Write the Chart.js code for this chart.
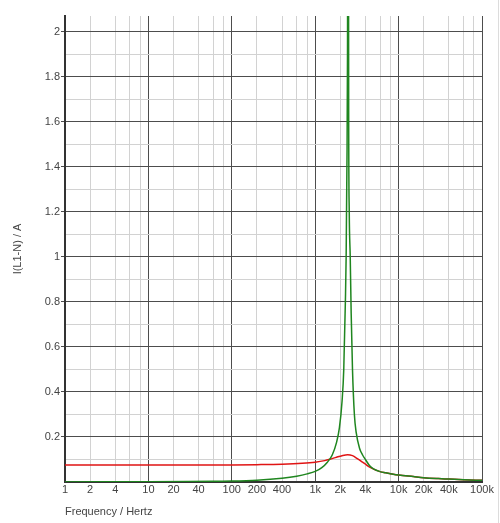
<!DOCTYPE html>
<html>
<head>
<meta charset="utf-8">
<script src="https://cdn.jsdelivr.net/npm/chart.js@4.4.1/dist/chart.umd.min.js"></script>
<style>
  html, body { margin: 0; padding: 0; background: #fff; }
  #wrap { width: 500px; height: 523px; position: relative; }
  #edge { position: absolute; left: 498px; top: 0; width: 1px; height: 523px; background: #dcdcdc; }
</style>
</head>
<body>
<div id="wrap"><canvas id="c" width="500" height="523"></canvas><div id="edge"></div></div>
<script>
// Frequencies (Hz) and currents (A)
const greenFreq = [1, 3, 10, 30, 60, 100, 200, 400, 600, 800, 1000, 1200, 1400, 1600, 1800, 1950, 2100, 2200, 2300, 2350, 2400, 2440, 2480, 2520, 2560, 2630, 2700, 2800, 2950, 3100, 3400, 3700, 4000, 4500, 5000, 6000, 7000, 8000, 10000, 15000, 20000, 30000, 40000, 60000, 100000];
const greenVal  = [0.0004, 0.0008, 0.0012, 0.002, 0.003, 0.004, 0.008, 0.017, 0.026, 0.036, 0.047, 0.064, 0.088, 0.12, 0.175, 0.24, 0.36, 0.5, 0.8, 1.0, 1.4, 1.91, 4.0, 1.65, 1.2, 1.0, 0.75, 0.5, 0.3, 0.22, 0.15, 0.12, 0.1, 0.072, 0.058, 0.046, 0.041, 0.037, 0.031, 0.024, 0.019, 0.015, 0.013, 0.01, 0.0075];

const redFreq = [1, 10, 100, 200, 400, 700, 1000, 1300, 1500, 1800, 2100, 2450, 2800, 3200, 3700, 4000, 4500, 5250, 6000, 7000, 8000, 10000, 15000, 20000, 30000, 40000, 60000, 100000];
const redVal  = [0.075, 0.075, 0.076, 0.077, 0.079, 0.083, 0.088, 0.095, 0.101, 0.11, 0.117, 0.121, 0.117, 0.104, 0.088, 0.079, 0.066, 0.054, 0.046, 0.041, 0.037, 0.031, 0.024, 0.019, 0.015, 0.013, 0.01, 0.0075];

// x grid: decades dark, 2/4/6/8 light; labels at 1/2/4 multiples
const xTickValues = [];
[1, 10, 100, 1000, 10000].forEach(d => [1, 2, 4, 6, 8].forEach(m => xTickValues.push(m * d)));
xTickValues.push(100000);
const xLabelMap = {1:'1',2:'2',4:'4',10:'10',20:'20',40:'40',100:'100',200:'200',400:'400',1000:'1k',2000:'2k',4000:'4k',10000:'10k',20000:'20k',40000:'40k',100000:'100k'};
const xMajor = [1, 10, 100, 1000, 10000, 100000];

const yTickValues = [];
for (let i = 0; i <= 20; i++) yTickValues.push(+(i * 0.1).toFixed(1));
const yMax = 2.07;

const toPts = (fs, vs) => fs.map((f, i) => ({x: f, y: vs[i]}));
const near = (a, b) => Math.abs(a - b) / b < 1e-6;
const inList = (v, list) => list.some(t => near(v, t));

const DARK = '#4d4d4d';
const LIGHT = '#d2d2d2';
const NONE = 'rgba(0,0,0,0)';
const FONT = 'Liberation Sans, Arial, sans-serif';

new Chart(document.getElementById('c'), {
  type: 'line',
  data: {
    datasets: [
      { data: toPts(greenFreq, greenVal), borderColor: '#1f861f', borderWidth: 1.5, pointRadius: 0, cubicInterpolationMode: 'monotone', fill: false },
      { data: toPts(redFreq, redVal), borderColor: '#e01414', borderWidth: 1.5, pointRadius: 0, cubicInterpolationMode: 'monotone', fill: false }
    ]
  },
  options: {
    responsive: false,
    animation: false,
    events: [],
    layout: { padding: { top: 16, right: 18, left: 0, bottom: 0 } },
    plugins: { legend: { display: false }, tooltip: { enabled: false } },
    scales: {
      x: {
        type: 'logarithmic',
        min: 1, max: 100000,
        afterBuildTicks: s => { s.ticks = xTickValues.map(v => ({value: v})); },
        afterFit: s => { s.height = 41; },
        ticks: {
          autoSkip: false, maxRotation: 0, padding: 1,
          color: '#444', font: { family: FONT, size: 11 },
          callback: v => xLabelMap[v] || ''
        },
        grid: {
          drawTicks: false,
          color: c => {
            const v = c.tick && c.tick.value;
            if (v == null) return NONE;
            if (inList(v, xMajor)) return DARK;
            if (inList(v, xTickValues)) return LIGHT;
            return NONE;
          },
          lineWidth: 1
        },
        border: { display: true, color: '#333', width: 2 },
        title: { display: true, text: 'Frequency / Hertz', align: 'start', color: '#444', font: { family: FONT, size: 11 }, padding: { top: 0, bottom: 4 } }
      },
      y: {
        type: 'linear',
        min: 0, max: yMax,
        afterBuildTicks: s => { s.ticks = yTickValues.map(v => ({value: v})); },
        afterFit: s => { s.width = 65; },
        ticks: {
          autoSkip: false, padding: 1,
          color: '#444', font: { family: FONT, size: 11 },
          callback: v => {
            const k = Math.round(v * 10);
            if (k === 0 || k % 2 !== 0) return '';
            return String(+(v.toFixed(1)));
          }
        },
        grid: {
          drawTicks: true, tickLength: 4,
          color: c => (Math.round(c.tick.value * 10) % 2 === 0) ? DARK : LIGHT,
          tickColor: c => (Math.round(c.tick.value * 10) % 2 === 0 && Math.round(c.tick.value * 10) !== 0) ? DARK : NONE,
          lineWidth: 1
        },
        border: { display: true, color: '#333', width: 2 },
        title: { display: true, text: 'I(L1-N) / A', color: '#444', font: { family: FONT, size: 11 }, padding: { top: 11, bottom: 0 } }
      }
    }
  }
});
</script>
</body>
</html>
